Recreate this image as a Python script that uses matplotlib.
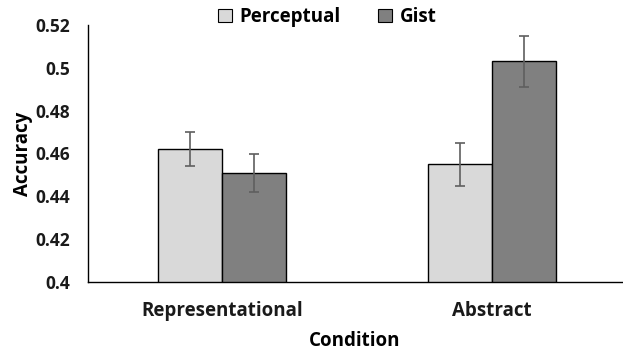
import matplotlib
matplotlib.use("Agg")
import matplotlib.pyplot as plt
import numpy as np
from matplotlib.patches import Patch

categories = ["Representational", "Abstract"]
series_names = ["Perceptual", "Gist"]
perceptual = [0.462, 0.455]
gist = [0.451, 0.503]
perceptual_err = [0.008, 0.010]
gist_err = [0.009, 0.012]
yticks = [0.4, 0.42, 0.44, 0.46, 0.48, 0.5, 0.52]
ytick_labels = ["0.4", "0.42", "0.44", "0.46", "0.48", "0.5", "0.52"]

plt.rcParams['font.family'] = ['Open Sans', 'DejaVu Sans']
plt.rcParams['font.weight'] = 'bold'

fig = plt.figure(figsize=(6.23, 3.54), dpi=100)
ax = fig.add_axes([88/623, 1-282/354, (622-88)/623, (282-25)/354])

x = np.arange(len(categories))
w = 0.237
ekw = dict(ecolor='#5f5f5f', elinewidth=1.2, capsize=3.5, capthick=1.2)
ax.bar(x - w/2, perceptual, w, color='#d9d9d9', edgecolor='black', linewidth=1.0,
       yerr=perceptual_err, error_kw=ekw, label=series_names[0], zorder=2)
ax.bar(x + w/2, gist, w, color='#808080', edgecolor='black', linewidth=1.0,
       yerr=gist_err, error_kw=ekw, label=series_names[1], zorder=2)

ax.set_xlim(-134/270, 1 + 130/270)
ax.set_ylim(0.4, 0.52)
ax.set_yticks(yticks)
ax.set_yticklabels(ytick_labels, fontsize=12.5, fontweight='bold', color='#1a1a1a')
ax.set_xticks(x)
ax.set_xticklabels(categories, fontsize=13.5, fontweight='bold', color='#1a1a1a')
ax.tick_params(axis='both', length=0)
ax.tick_params(axis='x', pad=14)
ax.tick_params(axis='y', pad=13)
for s in ['top', 'right']:
    ax.spines[s].set_visible(False)
for s in ['left', 'bottom']:
    ax.spines[s].set_linewidth(1.0)
    ax.spines[s].set_color('black')

ax.set_ylabel("Accuracy", fontsize=13.5, fontweight='bold', labelpad=2)
ax.set_xlabel("Condition", fontsize=13.5, fontweight='bold', labelpad=7)

handles = [Patch(facecolor='#d9d9d9', edgecolor='black', linewidth=0.8),
           Patch(facecolor='#808080', edgecolor='black', linewidth=0.8)]
leg = fig.legend(handles, series_names, loc='center', bbox_to_anchor=(327/623, 1-17/354),
                 ncol=2, frameon=False, handlelength=0.75, handleheight=0.75,
                 handletextpad=0.4, columnspacing=2.0, prop={'weight': 'bold', 'size': 13.5})

fig.savefig("out.png", dpi=100)
